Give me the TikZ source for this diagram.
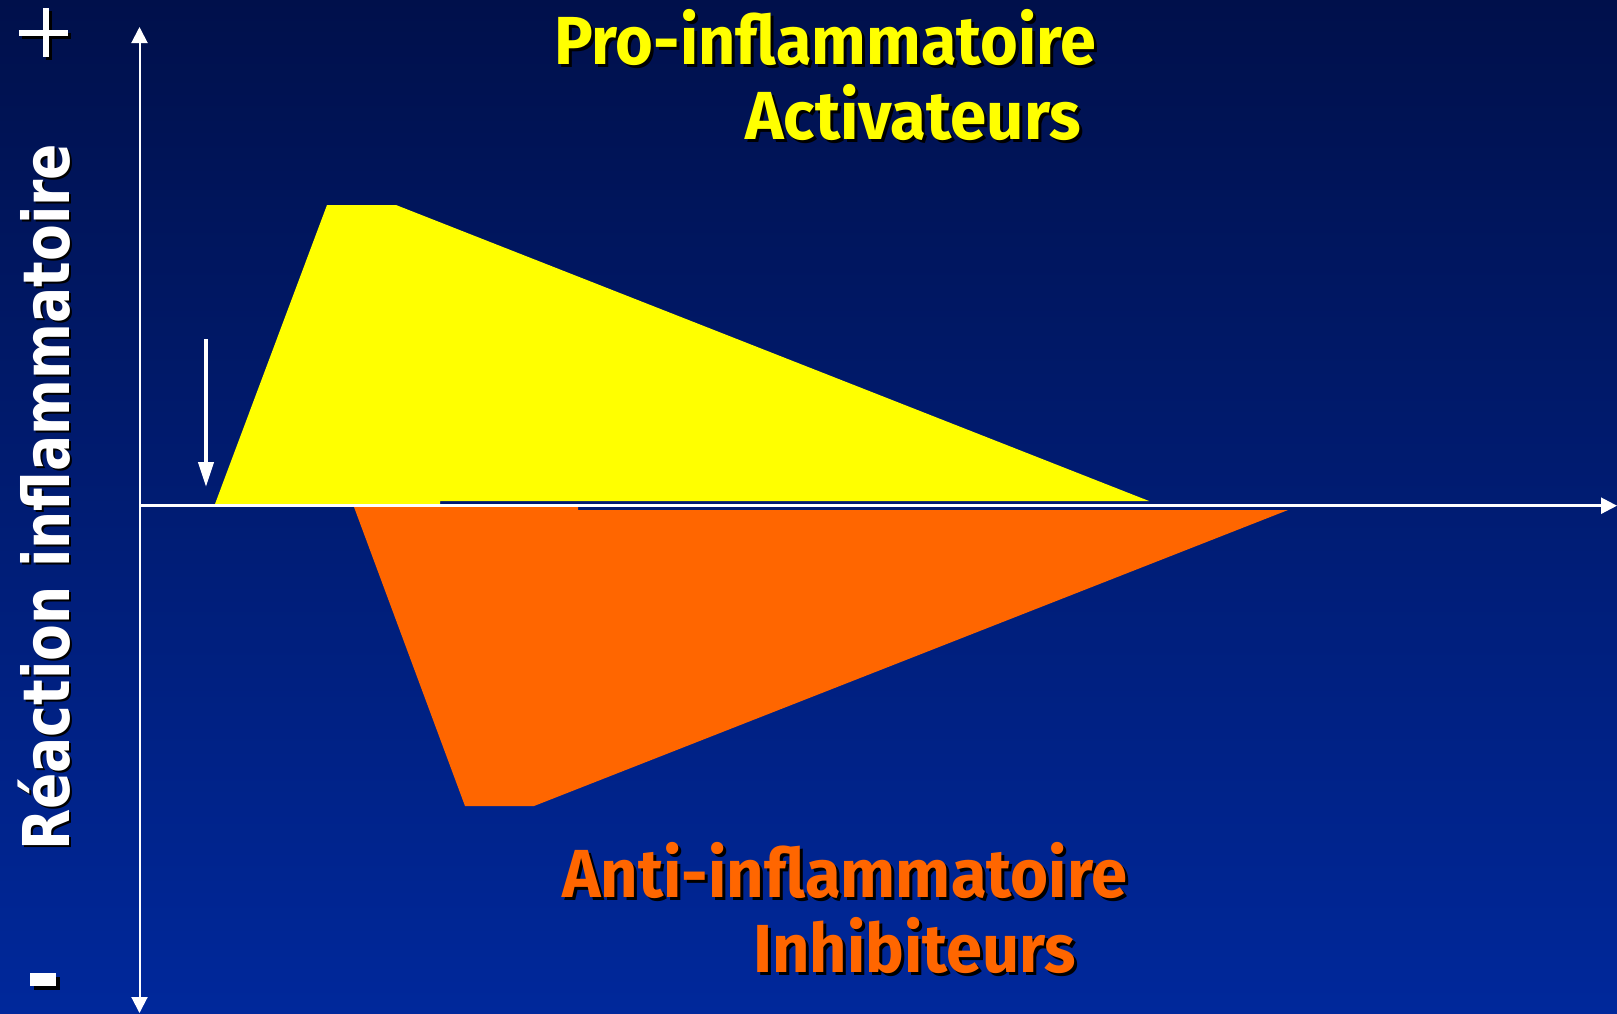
\documentclass[tikz,border=0pt]{standalone}
\usepackage{fontspec}
\usepackage{graphicx}
\setmainfont{Fira Sans}
\newfontfamily\vfont{DejaVu Sans}
\usetikzlibrary{arrows.meta}
\definecolor{bgtop}{RGB}{0,16,75}
\definecolor{bgbot}{RGB}{0,40,155}
\definecolor{yel}{RGB}{255,255,0}
\definecolor{ora}{RGB}{255,102,0}
\newcommand{\fitw}[2]{\resizebox{#1}{\height}{#2}}
\tikzset{
  axis/.style={white,line width=2.5pt,-{Triangle[width=16pt,length=16pt]}},
  bigtext/.style={font=\fontsize{68}{68}\selectfont\bfseries,inner sep=0pt},
  shadowtext/.style={bigtext,black},
  vtext/.style={font=\vfont\fontsize{64.5}{64.5}\selectfont\bfseries,inner sep=0pt,rotate=90},
}
\begin{document}
\begin{tikzpicture}[x=1pt,y=-1pt]
\useasboundingbox (0,0) rectangle (1617,1013);
\shade[top color=bgtop,bottom color=bgbot] (0,0) rectangle (1617,1013);
% yellow shape
\fill[yel] (215,504) -- (327,205) -- (396,205) -- (1149,501) -- (440,501) -- (440,504) -- cycle;
% orange shape
\fill[ora] (354,507) -- (578,507) -- (578,510) -- (1288,510) -- (534,806) -- (465,806) -- cycle;
% axes
\coordinate (xe) at (1617,505.7);
\coordinate (yt) at (139.5,27);
\coordinate (yb) at (139.5,1013);
\coordinate (xs) at (139.5,505.7);
\draw[axis] (xs) -- (xe);
\draw[white,line width=2pt,{Triangle[width=16pt,length=16pt]}-{Triangle[width=16pt,length=16pt]}] (yt) -- (yb);
% small arrow
\coordinate (sa) at (206,339);
\coordinate (sb) at (206,487);
\draw[white,line width=4pt,-{Triangle[width=15pt,length=25pt]}] (sa) -- (sb);
% plus sign
\fill[black] (22,33) rectangle (71,39);
\fill[black] (46,11) rectangle (52,60);
\fill[white] (19,30) rectangle (68,36);
\fill[white] (43,8) rectangle (49,57);
% minus sign
\fill[black] (34,977) rectangle (60,990);
\fill[white] (30,973) rectangle (56,986);
% texts
\node[shadowtext,anchor=base west] (p1s) at (557,67) {\fitw{542pt}{Pro-inflammatoire}};
\node[bigtext,yel,anchor=base west] (p1) at (554,64) {\fitw{542pt}{Pro-inflammatoire}};
\node[shadowtext,anchor=base west] (p2s) at (748,142) {\fitw{336pt}{Activateurs}};
\node[bigtext,yel,anchor=base west] (p2) at (745,139) {\fitw{336pt}{Activateurs}};
\node[shadowtext,anchor=base west] (a1s) at (565,900) {\fitw{565pt}{Anti-inflammatoire}};
\node[bigtext,ora,anchor=base west] (a1) at (562,897) {\fitw{565pt}{Anti-inflammatoire}};
\node[shadowtext,anchor=base west] (a2s) at (756,975) {\fitw{323pt}{Inhibiteurs}};
\node[bigtext,ora,anchor=base west] (a2) at (753,972) {\fitw{323pt}{Inhibiteurs}};
\node[vtext,black,anchor=base west] (vs) at (71,853) {\fitw{707pt}{Réaction inflammatoire}};
\node[vtext,white,anchor=base west] (v) at (69,851) {\fitw{707pt}{Réaction inflammatoire}};
\end{tikzpicture}
\end{document}
